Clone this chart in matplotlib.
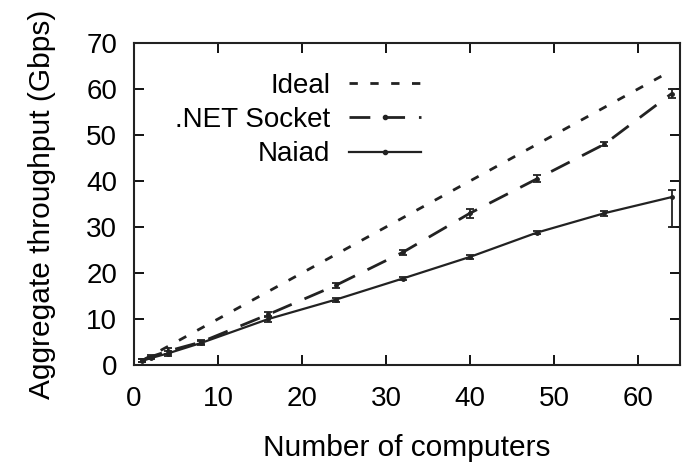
import matplotlib
matplotlib.use("Agg")
import matplotlib.pyplot as plt
from matplotlib.lines import Line2D

computers = [1, 2, 4, 8, 16, 24, 32, 40, 48, 56, 64]
ideal = [1, 2, 4, 8, 16, 24, 32, 40, 48, 56, 64]
net_socket = [1.0, 1.8, 3.0, 5.0, 11.0, 17.3, 24.5, 33.0, 40.5, 48.0, 59.0]
net_err = [0.3, 0.3, 0.6, 0.4, 0.6, 0.5, 0.5, 1.0, 0.8, 0.4, 1.0]
naiad = [0.9, 1.5, 2.5, 4.8, 10.0, 14.2, 18.8, 23.5, 28.8, 33.0, 36.5]
naiad_err_low = [0.3, 0.3, 0.5, 0.4, 0.6, 0.4, 0.4, 0.5, 0.4, 0.5, 6.5]
naiad_err_high = [0.3, 0.3, 0.5, 0.4, 0.6, 0.4, 0.4, 0.5, 0.4, 0.5, 1.5]
labels = ['Ideal', '.NET Socket', 'Naiad']

plt.rcParams['font.family'] = ['Liberation Sans', 'DejaVu Sans']
fig = plt.figure(figsize=(6.82, 4.69), dpi=100)
ax = fig.add_axes([134/682, 1 - 365/469, 546/682, 322/469])

c = '#222222'
ax.plot(computers, ideal, color=c, lw=2, dashes=(3, 4.5))
ax.errorbar(computers, net_socket, yerr=net_err, color=c, lw=2,
            dashes=(7.5, 5), marker='o', ms=2.5, capsize=3, elinewidth=1.3,
            capthick=1.3)
ax.errorbar(computers, naiad, yerr=[naiad_err_low, naiad_err_high], color=c, lw=1.6,
            marker='o', ms=2.5, capsize=3, elinewidth=1.3, capthick=1.3)

ax.set_xlim(0, 65)
ax.set_ylim(0, 70)
ax.set_xticks(range(0, 61, 10))
ax.set_yticks(range(0, 71, 10))
ax.tick_params(direction='in', top=True, right=True, labelsize=20, length=7, width=1.3)
ax.tick_params(axis='x', pad=15)
ax.tick_params(axis='y', pad=12)
for s in ax.spines.values():
    s.set_linewidth(1.5)
    s.set_color(c)
ax.set_xlabel('Number of computers', fontsize=21.5, labelpad=16)
ax.set_ylabel('Aggregate throughput (Gbps)', fontsize=21.5, labelpad=22)

handles = [
    Line2D([], [], color=c, lw=2, dashes=(3, 4.5)),
    Line2D([], [], color=c, lw=2, dashes=(7.5, 5), marker='o', ms=3),
    Line2D([], [], color=c, lw=1.6, marker='o', ms=3),
]
leg = ax.legend(handles, labels, loc='upper left', bbox_to_anchor=(0.03, 0.985), frameon=False,
                markerfirst=False, fontsize=20, handlelength=2.6, labelspacing=0.3,
                handletextpad=0.65)
for t in leg.get_texts():
    t.set_ha('right')
leg._legend_box.align = 'right'

fig.savefig('out.png', dpi=100)
